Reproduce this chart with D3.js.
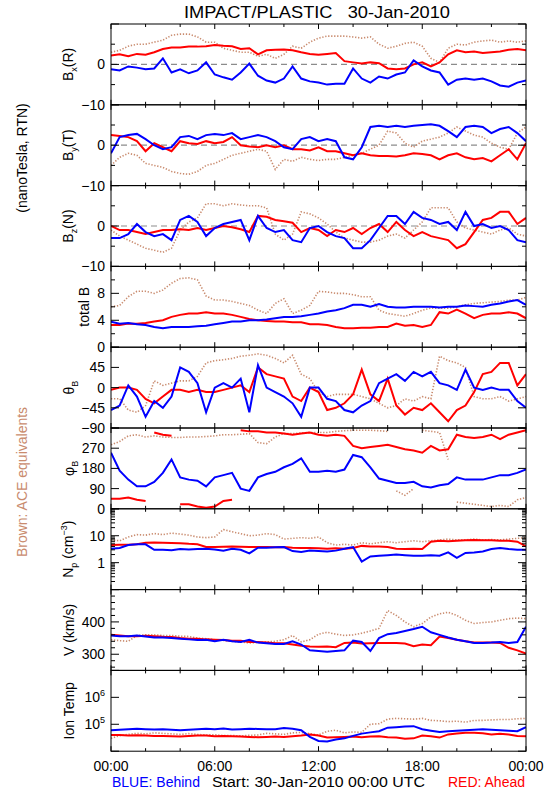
<!DOCTYPE html>
<html><head><meta charset="utf-8">
<script src="https://cdn.jsdelivr.net/npm/d3@7/dist/d3.min.js"></script>
<style>body{margin:0;background:#fff}svg{display:block;font-family:"Liberation Sans",Arial,sans-serif}</style>
</head><body><svg id="c" width="550" height="800"></svg>
<script>
// time grid: hours after 00:00 UTC, every 30 min
const hours = d3.range(0, 24.01, 0.5);
const xTickLabels = ["00:00","06:00","12:00","18:00","00:00"];

// Bx(R)
const bxBlue = [-1.2,-1.5,-0.5,-0.8,-1.2,-1.0,1.5,-2.0,-1.2,-2.2,-1.5,0.5,-2.5,-3.2,-3.8,-2.0,0.2,-2.8,-4.0,-4.5,-3.5,-0.5,-3.5,-4.2,-4.5,-5.0,-4.8,-4.8,-1.0,-3.5,-4.5,-3.0,-3.5,-2.5,-2.0,1.0,-0.5,-1.5,-2.0,-5.0,-3.8,-3.5,-3.8,-3.5,-4.2,-5.2,-5.5,-4.5,-4.0];
const bxRed = [2.2,2.5,2.0,2.6,2.4,3.0,3.8,4.2,4.2,4.4,4.4,4.5,4.8,4.6,4.5,3.8,4.0,2.5,3.5,3.6,3.7,3.5,3.0,2.6,2.4,2.6,2.8,0.8,0.5,0.2,0.5,0.3,-1.0,-1.2,-1.0,0.0,0.5,-0.5,0.5,2.5,3.5,3.0,3.2,2.8,3.0,3.2,3.6,3.8,3.5];
const bxBrown = [3.0,3.5,4.5,5.0,5.0,5.5,6.0,7.2,7.5,7.5,6.8,5.5,5.5,4.0,3.5,3.0,3.0,2.0,2.5,1.5,2.5,4.5,4.0,5.5,6.5,7.0,7.0,7.0,6.8,6.5,6.8,5.0,4.0,4.5,5.2,5.5,4.5,1.5,0.5,4.0,5.0,4.8,5.5,5.8,6.0,5.5,5.8,5.5,5.8];

// By(T)
const byBlue = [-2.0,2.0,2.5,2.8,1.5,0.0,-1.0,-0.5,2.0,2.3,1.5,2.5,2.8,2.5,3.0,1.5,2.0,2.5,2.0,1.0,-0.5,-1.0,1.5,2.0,1.0,1.5,1.0,-3.0,-3.5,-0.5,4.5,4.8,4.5,4.8,4.5,4.8,5.0,5.2,4.8,3.5,2.0,4.5,4.8,4.5,3.0,4.0,4.5,3.0,1.0];
const byRed = [2.5,2.3,2.0,1.0,-1.5,0.5,-0.5,-1.5,1.0,0.5,0.3,1.0,0.5,0.8,2.0,0.0,-0.3,-0.5,0.0,-0.5,0.0,-1.0,-1.0,-1.3,-0.5,-1.5,-1.5,-2.0,-2.5,-2.0,-2.5,-2.7,-2.7,-2.8,-2.5,-2.0,-2.2,-2.5,-3.5,-2.5,-2.0,-3.0,-3.5,-3.2,-4.0,-2.5,-1.0,-3.5,0.5];
const byBrown = [-5.0,-3.0,-2.0,-2.5,-4.5,-5.0,-5.5,-6.5,-7.0,-7.2,-6.5,-5.0,-4.5,-3.5,-2.5,-2.0,-1.5,-1.0,-1.5,-6.0,-3.5,-4.0,-3.0,-3.5,-3.8,-3.5,-3.5,-3.0,-2.5,-2.0,-1.0,0.0,3.5,3.0,0.5,-0.5,1.0,1.5,2.0,3.0,4.5,3.5,2.5,2.0,0.5,-0.5,-1.0,3.0,4.5];

// Bz(N)
const bzBlue = [-3.0,-3.0,-2.0,0.5,-1.5,-2.5,-2.0,-3.5,1.5,2.5,1.0,-2.5,-0.5,0.5,1.0,1.5,-3.5,2.5,-0.5,-1.5,-1.0,-3.5,-4.0,-0.5,0.0,-1.5,-2.5,-3.0,-5.5,-5.5,-3.5,-0.5,2.5,2.5,0.5,3.5,2.0,1.5,0.5,1.0,-1.0,3.5,0.0,0.5,-0.5,0.0,-1.0,-3.5,-4.0];
const bzRed = [0.0,-1.0,-1.0,-1.5,-2.0,-1.5,-1.0,-1.0,-0.8,-1.0,-0.5,-1.0,-0.5,0.0,-0.3,-0.8,-1.5,2.5,2.3,1.5,1.2,0.8,-1.5,-0.5,-1.0,-2.5,-1.0,-1.5,-0.5,-2.0,-0.5,0.5,-1.5,1.0,-1.0,-2.5,-1.5,-2.5,-3.0,-3.5,-5.5,-4.5,-1.5,1.5,2.0,3.5,3.5,0.5,2.0];
const bzBrown = [-1.0,-2.5,-3.5,-4.5,-5.5,-6.0,-6.5,-5.5,-1.0,1.0,2.0,5.5,5.5,5.0,5.5,5.2,5.0,5.0,4.5,-2.0,-3.5,-2.0,3.5,3.0,2.0,0.5,-1.5,-3.0,-3.5,-4.0,-4.0,-3.5,-2.5,-2.0,-3.0,-1.0,1.0,4.5,4.5,4.5,1.0,-0.5,-1.0,-1.5,-2.0,-1.0,-0.5,-2.0,-2.5];

// total B (nT)
const btBlue = [3.8,3.5,3.6,3.4,3.3,3.0,2.8,3.0,3.0,3.0,3.1,3.2,3.4,3.6,3.8,3.8,4.0,4.0,4.1,4.3,4.5,4.5,4.6,4.8,5.0,5.3,5.5,5.8,6.3,6.3,6.0,6.4,6.0,5.9,5.9,6.0,6.0,6.0,5.9,6.0,6.0,6.2,6.1,6.0,6.3,6.5,6.8,7.0,6.3];
const btRed = [3.3,3.3,3.5,3.5,3.6,3.8,4.0,4.5,4.8,5.0,5.0,5.2,5.0,5.0,4.8,4.5,4.2,4.0,3.9,3.8,3.8,3.7,3.7,3.4,3.4,3.3,3.0,2.8,2.8,2.9,2.9,3.0,3.0,3.5,3.2,3.3,3.0,3.3,5.2,5.0,5.6,5.0,4.3,4.8,5.0,5.0,5.2,5.0,4.3];
const btBrown = [6.0,6.2,7.5,8.3,8.3,8.0,8.5,9.5,10.2,10.3,10.0,7.6,7.0,7.0,6.8,6.5,6.2,5.5,5.0,6.5,7.2,5.0,5.5,6.2,8.3,8.2,8.0,8.0,7.8,7.5,7.5,5.5,5.0,4.8,4.6,5.0,5.5,5.8,5.8,5.8,6.0,6.3,6.5,6.6,6.7,6.8,7.0,7.0,7.4];

// theta_B (deg)
const thBlue = [-50,-40,5,-20,-65,-30,-45,-20,45,35,10,-55,0,10,0,20,-55,50,0,-10,-20,-35,-65,0,0,-25,-30,-50,-55,-40,-30,10,20,30,15,35,25,35,10,5,-5,40,0,-5,0,-5,-5,-30,-45];
const thRed = [-5,0,0,-5,-25,-35,-20,-5,-5,-10,-5,-10,-10,-5,0,5,-10,45,30,25,20,-20,-30,0,-10,-50,-45,-35,-15,40,-15,-30,20,-40,-60,-45,-50,-35,-55,-75,-50,-40,-10,30,35,55,55,5,30];
const thBrown = [-25,-25,-50,-55,-40,15,5,10,15,15,25,55,60,62,65,70,72,75,72,65,55,72,30,20,-10,-20,-15,-15,-15,-20,-25,-35,-45,-40,-25,-30,-20,-25,70,60,55,45,-20,-25,-25,-20,-30,-25,-20];

// phi_B (deg)
const phBlue = [250,170,130,100,100,120,160,220,140,130,125,100,140,150,160,90,80,140,155,165,185,200,225,165,165,170,165,175,240,230,185,135,125,115,115,120,100,95,105,110,140,130,130,130,140,150,150,160,175];
const phRed = [45,45,50,40,35,340,330,325,20,20,10,5,10,35,40,350,345,345,340,340,335,330,335,340,330,325,330,325,280,270,275,280,285,275,265,260,250,280,260,265,330,320,315,320,330,310,330,340,350];
const phBrown = [285,300,325,330,320,325,320,318,318,320,320,322,325,330,330,332,335,295,290,320,335,335,338,340,340,340,345,348,350,350,350,348,345,80,60,90,350,345,340,220,30,25,20,15,10,15,10,40,50];

// Np (cm^-3)
const npBlue = [3.3,3.5,4.5,4.8,4.8,3.0,3.0,2.9,3.2,3.1,3.2,3.3,3.1,2.8,3.3,3.0,2.2,3.6,3.6,3.7,3.8,2.7,2.5,2.8,2.7,2.6,2.8,3.3,3.8,1.1,1.7,1.8,1.9,2.0,1.9,1.8,1.8,1.9,1.8,2.4,1.5,2.3,2.4,2.6,3.2,3.5,3.2,3.0,3.0];
const npRed = [4.5,4.6,4.6,4.8,5.5,5.6,5.5,5.4,5.3,5.0,4.8,3.8,3.8,3.9,4.0,3.9,3.8,3.8,3.8,3.7,3.8,3.6,3.5,3.5,3.4,3.3,3.4,3.3,3.5,4.2,4.0,4.0,3.8,3.3,3.2,3.3,3.2,6.0,6.5,6.2,6.5,6.8,7.0,6.8,6.8,6.5,6.5,6.0,4.0];
const npBrown = [7.0,6.5,9.0,11.0,10.5,12.0,11.0,12.5,11.5,10.5,9.0,8.5,9.0,17.0,14.0,12.0,10.0,10.5,12.0,11.0,7.5,8.0,8.5,8.0,9.0,5.5,4.5,4.8,4.5,5.5,5.0,5.5,6.0,5.5,6.0,6.5,6.0,6.5,7.0,7.5,7.0,7.0,7.5,7.0,7.2,7.0,7.5,8.0,8.5];

// V (km/s)
const vBlue = [358,356,356,358,355,352,352,350,348,346,344,345,340,345,340,338,345,336,334,332,332,340,330,312,310,308,310,312,342,338,310,350,362,366,372,378,385,368,360,352,345,340,335,335,336,338,335,338,385];
const vRed = [360,358,356,356,357,356,354,353,350,348,348,346,345,344,342,342,338,338,336,334,334,330,326,324,323,324,322,335,336,333,334,335,335,335,333,325,330,328,355,350,345,340,336,336,336,335,320,312,302];
const vBrown = [345,342,340,358,360,360,358,358,356,355,350,348,345,343,340,338,335,336,338,340,345,358,338,345,362,368,362,358,360,365,372,380,435,420,400,385,395,415,425,430,420,405,395,398,400,405,410,412,410];

// Ion Temp (K)
const tBlue = [60000,62000,65000,68000,66000,64000,65000,62000,60000,62000,65000,68000,66000,70000,64000,66000,68000,67000,65000,66000,72000,68000,60000,34000,24000,23000,27000,30000,37000,45000,50000,55000,75000,78000,82000,85000,65000,58000,52000,55000,58000,60000,62000,65000,62000,60000,58000,55000,78000];
const tRed = [40000,40000,38000,39000,38000,37000,37000,36000,35000,37000,38000,38000,36000,37000,36000,35000,34000,33000,34000,35000,34000,36000,38000,42000,38000,32000,33000,34000,35000,33000,35000,36000,33000,32000,29000,30000,38000,36000,32000,42000,45000,48000,48000,46000,42000,44000,42000,37000,36000];
const tBrown = [30000,38000,42000,46000,44000,48000,46000,44000,42000,45000,42000,40000,41000,38000,38000,37000,39000,40000,46000,44000,42000,48000,50000,45000,40000,55000,60000,48000,52000,50000,100000,105000,155000,165000,160000,155000,165000,140000,135000,125000,130000,120000,138000,140000,145000,150000,150000,160000,165000];

const BLUE="#0000ff", RED="#ff0000", BROWN="#c98b6e";

const svg = d3.select("#c");
const x = d3.scaleLinear().domain([0,24]).range([111,526]);
const PT = 24, PH = 80.8;

const panels = [
 {b:bxBlue,r:bxRed,w:bxBrown,dom:[-10,10],major:[-10,0,10],minor:[-5,5],labels:[[0,"0"],[-10,"−10"]],zero:true,title:[["B",""],["x","sub"],["(R)",""]],tx:73},
 {b:byBlue,r:byRed,w:byBrown,dom:[-10,10],major:[-10,0,10],minor:[-5,5],labels:[[0,"0"],[-10,"−10"]],zero:true,title:[["B",""],["y","sub"],["(T)",""]],tx:73},
 {b:bzBlue,r:bzRed,w:bzBrown,dom:[-10,10],major:[-10,0,10],minor:[-5,5],labels:[[0,"0"],[-10,"−10"]],zero:true,title:[["B",""],["z","sub"],["(N)",""]],tx:73},
 {b:btBlue,r:btRed,w:btBrown,dom:[0,12],major:[0,4,8,12],minor:[2,6,10],labels:[[0,"0"],[4,"4"],[8,"8"]],title:[["total B",""]],tx:89},
 {b:thBlue,r:thRed,w:thBrown,dom:[-90,90],major:[-90,-45,0,45,90],minor:[],labels:[[-90,"−90"],[-45,"−45"],[0,"0"],[45,"45"]],title:[["θ",""],["B","sub"]],tx:74},
 {b:phBlue,r:phRed,w:phBrown,dom:[0,360],major:[0,90,180,270,360],minor:[],labels:[[0,"0"],[90,"90"],[180,"180"],[270,"270"]],title:[["φ",""],["B","sub"]],tx:74,wrap:true},
 {b:npBlue,r:npRed,w:npBrown,dom:[0.1,100],log:true,major:[0.1,1,10,100],minor:[0.1,1,10].flatMap(d=>[2,3,4,5,6,7,8,9].map(k=>d*k)),labels:[[1,"1"],[10,"10"]],title:[["N",""],["p","sub"],[" (cm",""],["−3","sup"],[")",""]],tx:73},
 {b:vBlue,r:vRed,w:vBrown,dom:[250,500],major:[300,400,500],minor:[260,280,320,340,360,380,420,440,460,480],labels:[[300,"300"],[400,"400"]],title:[["V (km/s)",""]],tx:74},
 {b:tBlue,r:tRed,w:tBrown,dom:[1e4,1e7],log:true,major:[1e4,1e5,1e6,1e7],minor:[],labels:[[1e5,"10","5"],[1e6,"10","6"]],title:[["Ion Temp",""]],tx:74}
];

const defs = svg.append("defs");

panels.forEach((p,i)=>{
  const top = PT + i*PH, bot = top + PH;
  const y = (p.log ? d3.scaleLog() : d3.scaleLinear()).domain(p.dom).range([bot, top]);
  const g = svg.append("g");
  const cid = "clip"+i;
  defs.append("clipPath").attr("id",cid).append("rect")
    .attr("x",x(0)).attr("y",top).attr("width",x(24)-x(0)).attr("height",PH);
  const plot = g.append("g").attr("clip-path",`url(#${cid})`);
  if(p.zero){
    plot.append("line").attr("x1",x(0)).attr("x2",x(24)).attr("y1",y(0)).attr("y2",y(0))
      .attr("stroke","#8c8c8c").attr("stroke-width",1.2).attr("stroke-dasharray","6,4");
  }
  function pts(arr){
    const out=[];
    arr.forEach((v,k)=>{
      if(p.wrap && k>0 && Math.abs(v-arr[k-1])>180) out.push(null);
      out.push([hours[k],v]);
    });
    return out;
  }
  const line = d3.line().defined(d=>d!==null).x(d=>x(d[0])).y(d=>y(d[1]));
  plot.append("path").attr("d",line(pts(p.w))).attr("fill","none").attr("stroke",BROWN)
    .attr("stroke-width",1.6).attr("stroke-dasharray","1.3,1.7");
  plot.append("path").attr("d",line(pts(p.r))).attr("fill","none").attr("stroke",RED).attr("stroke-width",2);
  plot.append("path").attr("d",line(pts(p.b))).attr("fill","none").attr("stroke",BLUE).attr("stroke-width",2);

  g.append("rect").attr("x",x(0)).attr("y",top).attr("width",x(24)-x(0)).attr("height",PH)
    .attr("fill","none").attr("stroke","#000").attr("stroke-width",1);
  const tk = (v,len)=>{
    const yy = y(v);
    if(yy<top-0.5||yy>bot+0.5) return;
    g.append("line").attr("x1",x(0)).attr("x2",x(0)+len).attr("y1",yy).attr("y2",yy).attr("stroke","#000");
    g.append("line").attr("x1",x(24)).attr("x2",x(24)-len).attr("y1",yy).attr("y2",yy).attr("stroke","#000");
  };
  p.major.forEach(v=>tk(v,8));
  p.minor.forEach(v=>tk(v,4));
  d3.range(0,24.01,2).forEach(h=>{
    const len = (h%6===0)?5:3;
    g.append("line").attr("x1",x(h)).attr("x2",x(h)).attr("y1",top).attr("y2",top+len).attr("stroke","#000");
    g.append("line").attr("x1",x(h)).attr("x2",x(h)).attr("y1",bot).attr("y2",bot-len).attr("stroke","#000");
  });
  p.labels.forEach(l=>{
    const t = g.append("text").attr("x",105).attr("y",y(l[0])+5).attr("text-anchor","end")
      .attr("font-size",14).attr("fill","#000");
    t.append("tspan").text(l[1]);
    if(l[2]) t.append("tspan").attr("font-size",9).attr("dy",-6).text(l[2]);
  });
  const cy = (top+bot)/2;
  const tt = g.append("text").attr("transform",`translate(${p.tx},${cy}) rotate(-90)`)
    .attr("text-anchor","middle").attr("font-size",14).attr("fill","#000");
  p.title.forEach((s,k)=>{
    const ts = tt.append("tspan").text(s[0]);
    const prev = k>0 ? p.title[k-1][1] : "";
    if(s[1]==="sub") ts.attr("font-size",9).attr("dy",4);
    else if(s[1]==="sup") ts.attr("font-size",9).attr("dy",-6);
    else if(prev==="sub") ts.attr("dy",-4);
    else if(prev==="sup") ts.attr("dy",6);
  });
});

const bottomY = PT + 9*PH;
[0,6,12,18,24].forEach((h,k)=>{
  svg.append("text").attr("x",x(h)).attr("y",bottomY+20).attr("text-anchor","middle")
    .attr("font-size",14).attr("fill","#000").text(xTickLabels[k]);
});

svg.append("text").attr("x",184).attr("y",18)
  .attr("font-size",17).attr("fill","#000").attr("xml:space","preserve").style("white-space","pre")
  .attr("textLength",266).attr("lengthAdjust","spacingAndGlyphs")
  .text("IMPACT/PLASTIC   30-Jan-2010");

svg.append("text").attr("transform","translate(27,158) rotate(-90)").attr("text-anchor","middle")
  .attr("font-size",14).attr("fill","#000").text("(nanoTesla, RTN)");
svg.append("text").attr("transform","translate(27,482) rotate(-90)").attr("text-anchor","middle")
  .attr("font-size",14).attr("fill",BROWN).text("Brown: ACE equivalents");

svg.append("text").attr("x",112).attr("y",787).attr("font-size",14).attr("fill",BLUE).text("BLUE: Behind");
svg.append("text").attr("x",212).attr("y",787).attr("font-size",14).attr("fill","#000")
  .attr("textLength",213).attr("lengthAdjust","spacingAndGlyphs").text("Start: 30-Jan-2010 00:00 UTC");
svg.append("text").attr("x",525).attr("y",787).attr("text-anchor","end").attr("font-size",14).attr("fill",RED).text("RED: Ahead");
</script>
</body></html>
